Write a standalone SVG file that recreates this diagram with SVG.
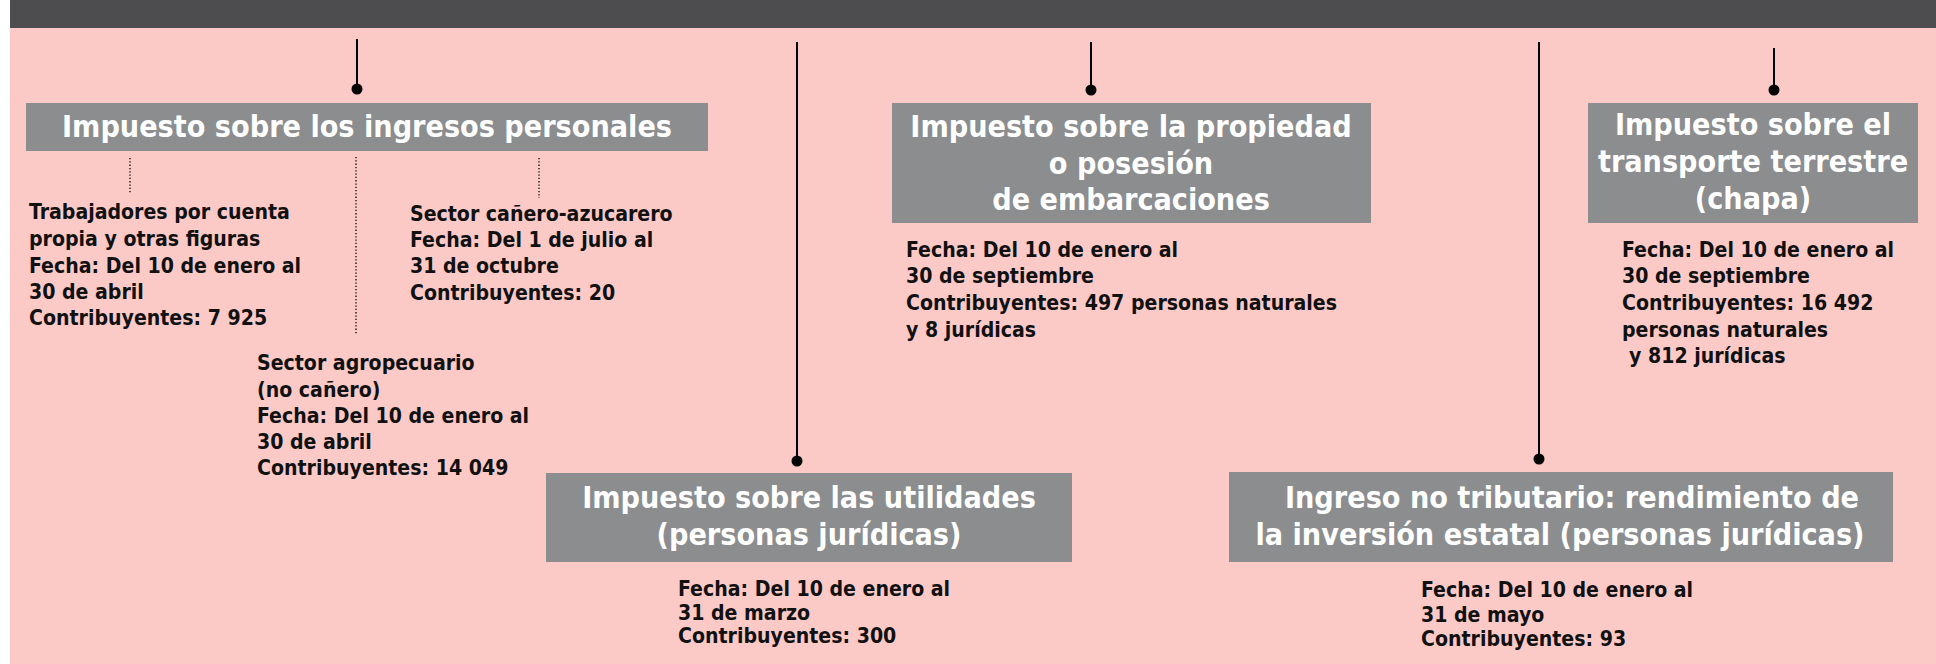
<svg xmlns="http://www.w3.org/2000/svg" width="1936" height="664" viewBox="0 0 1936 664">
<style>
.bg{fill:#fbcac7}
.hdr{fill:#4d4d4f}
.box{fill:#8b8d8f}
.tt{font-family:"DejaVu Sans Condensed","DejaVu Sans",sans-serif;font-stretch:condensed;font-weight:bold;font-size:30.2px;fill:#ffffff;text-anchor:middle}
.bt{font-family:"DejaVu Sans Condensed","DejaVu Sans",sans-serif;font-stretch:condensed;font-weight:bold;font-size:21.1px;fill:#111111}
.ln{stroke:#000;stroke-width:2;fill:none}
.dl{stroke:#000;stroke-width:1.3;stroke-dasharray:1.3 2;fill:none}
.dot{fill:#000}
</style>
<rect x="0" y="0" width="1936" height="664" fill="#ffffff"/>
<rect class="bg" x="10" y="28" width="1926" height="636"/>
<rect class="hdr" x="10" y="0" width="1926" height="28"/>

<g id="connectors">
  <line class="ln" x1="357" y1="39" x2="357" y2="88"/>
  <ellipse class="dot" cx="357" cy="89" rx="5.5" ry="5.5"/>
  <line class="ln" x1="797" y1="42" x2="797" y2="460"/>
  <ellipse class="dot" cx="797" cy="461" rx="5.5" ry="5.5"/>
  <line class="ln" x1="1091" y1="42" x2="1091" y2="89"/>
  <ellipse class="dot" cx="1091" cy="90" rx="5.5" ry="5.5"/>
  <line class="ln" x1="1539" y1="42" x2="1539" y2="458"/>
  <ellipse class="dot" cx="1539" cy="459" rx="5.5" ry="5.5"/>
  <line class="ln" x1="1774" y1="48" x2="1774" y2="89"/>
  <ellipse class="dot" cx="1774" cy="90" rx="5.5" ry="5.5"/>
  <line class="dl" x1="130" y1="158" x2="130" y2="193"/>
  <line class="dl" x1="356" y1="157" x2="356" y2="335"/>
  <line class="dl" x1="539" y1="158" x2="539" y2="198"/>
</g>

<g id="ingresos-personales">
  <rect class="box" x="26" y="103" width="682" height="48"/>
  <text class="tt" x="367" y="137">Impuesto sobre los ingresos personales</text>
</g>

<g id="trabajadores">
  <text class="bt" x="29" y="219">Trabajadores por cuenta</text>
  <text class="bt" x="29" y="246">propia y otras figuras</text>
  <text class="bt" x="29" y="273">Fecha: Del 10 de enero al</text>
  <text class="bt" x="29" y="299">30 de abril</text>
  <text class="bt" x="29" y="325">Contribuyentes: 7 925</text>
</g>

<g id="canero">
  <text class="bt" x="410" y="221">Sector cañero-azucarero</text>
  <text class="bt" x="410" y="247">Fecha: Del 1 de julio al</text>
  <text class="bt" x="410" y="273">31 de octubre</text>
  <text class="bt" x="410" y="300">Contribuyentes: 20</text>
</g>

<g id="agropecuario">
  <text class="bt" x="257" y="370">Sector agropecuario</text>
  <text class="bt" x="257" y="397">(no cañero)</text>
  <text class="bt" x="257" y="423">Fecha: Del 10 de enero al</text>
  <text class="bt" x="257" y="449">30 de abril</text>
  <text class="bt" x="257" y="475">Contribuyentes: 14 049</text>
</g>

<g id="propiedad">
  <rect class="box" x="892" y="103" width="479" height="120"/>
  <text class="tt" x="1131" y="137">Impuesto sobre la propiedad</text>
  <text class="tt" x="1131" y="174">o posesión</text>
  <text class="tt" x="1131" y="210">de embarcaciones</text>
  <text class="bt" x="906" y="257">Fecha: Del 10 de enero al</text>
  <text class="bt" x="906" y="283">30 de septiembre</text>
  <text class="bt" x="906" y="310">Contribuyentes: 497 personas naturales</text>
  <text class="bt" x="906" y="337">y 8 jurídicas</text>
</g>

<g id="transporte">
  <rect class="box" x="1588" y="103" width="330" height="120"/>
  <text class="tt" x="1753" y="135">Impuesto sobre el</text>
  <text class="tt" x="1753" y="172">transporte terrestre</text>
  <text class="tt" x="1753" y="209">(chapa)</text>
  <text class="bt" x="1622" y="257">Fecha: Del 10 de enero al</text>
  <text class="bt" x="1622" y="283">30 de septiembre</text>
  <text class="bt" x="1622" y="310">Contribuyentes: 16 492</text>
  <text class="bt" x="1622" y="337">personas naturales</text>
  <text class="bt" x="1629" y="363">y 812 jurídicas</text>
</g>

<g id="utilidades">
  <rect class="box" x="546" y="473" width="526" height="89"/>
  <text class="tt" x="809" y="508">Impuesto sobre las utilidades</text>
  <text class="tt" x="809" y="545">(personas jurídicas)</text>
  <text class="bt" x="678" y="596">Fecha: Del 10 de enero al</text>
  <text class="bt" x="678" y="620">31 de marzo</text>
  <text class="bt" x="678" y="643">Contribuyentes: 300</text>
</g>

<g id="no-tributario">
  <rect class="box" x="1229" y="472" width="664" height="90"/>
  <text class="tt" x="1572" y="508">Ingreso no tributario: rendimiento de</text>
  <text class="tt" x="1560" y="545">la inversión estatal (personas jurídicas)</text>
  <text class="bt" x="1421" y="597">Fecha: Del 10 de enero al</text>
  <text class="bt" x="1421" y="622">31 de mayo</text>
  <text class="bt" x="1421" y="646">Contribuyentes: 93</text>
</g>
</svg>
